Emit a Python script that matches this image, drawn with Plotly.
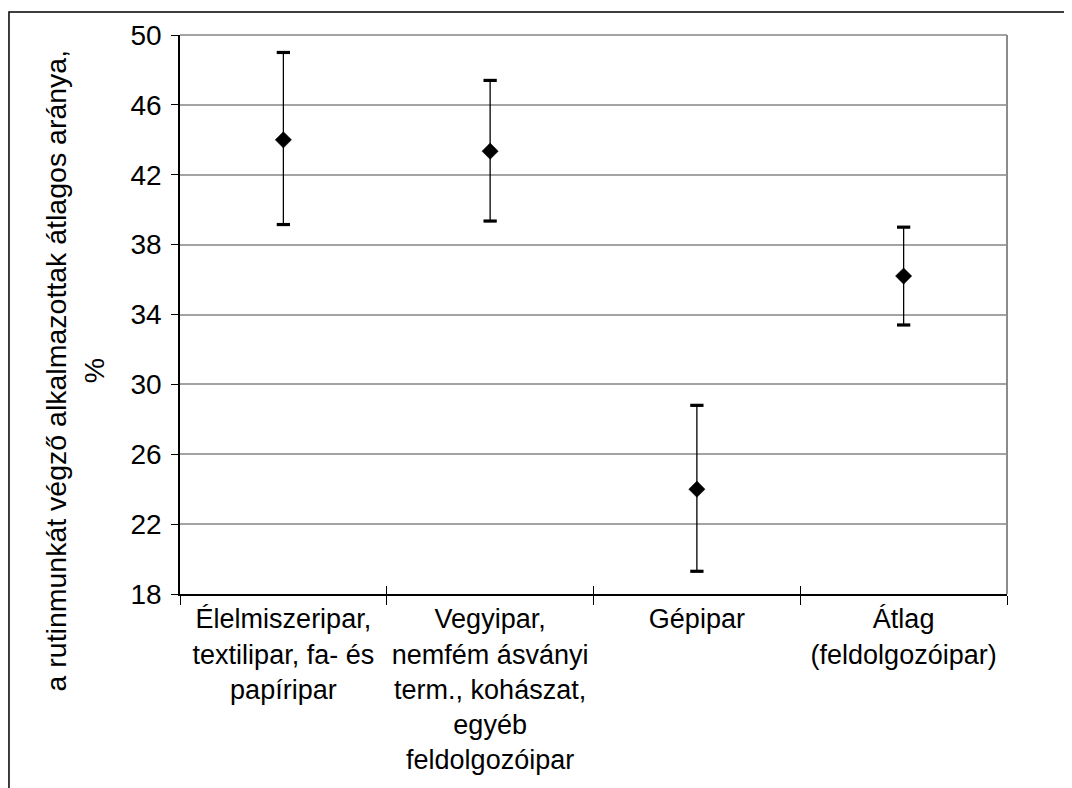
import plotly.graph_objects as go

categories = [
    "Élelmiszeripar,<br>textilipar, fa- és<br>papíripar",
    "Vegyipar,<br>nemfém ásványi<br>term., kohászat,<br>egyéb<br>feldolgozóipar",
    "Gépipar",
    "Átlag<br>(feldolgozóipar)",
]
means = [44.0, 43.35, 24.0, 36.2]
upper = [49.0, 47.4, 28.8, 39.0]
lower = [39.15, 39.35, 19.3, 33.4]
y_ticks = [18, 22, 26, 30, 34, 38, 42, 46, 50]
y_title = "a rutinmunkát végző alkalmazottak átlagos aránya,<br>%"

FONT = "Liberation Sans, Arial, sans-serif"
FS = 27

err_plus = [u - m for u, m in zip(upper, means)]
err_minus = [m - l for m, l in zip(means, lower)]

fig = go.Figure()

# stems
fig.add_trace(go.Scatter(
    x=categories, y=means, mode="markers",
    marker=dict(size=1, color="rgba(0,0,0,0)"),
    error_y=dict(type="data", symmetric=False, array=err_plus, arrayminus=err_minus,
                 color="black", thickness=1.3, width=0),
    showlegend=False, hoverinfo="skip",
))
# caps
fig.add_trace(go.Scatter(
    x=categories + categories, y=upper + lower, mode="markers",
    marker=dict(symbol="line-ew", size=9.5, color="black",
                line=dict(color="black", width=3.2)),
    showlegend=False, hoverinfo="skip",
))
# means
fig.add_trace(go.Scatter(
    x=categories, y=means, mode="markers",
    marker=dict(symbol="diamond", size=12.5, color="black",
                line=dict(color="black", width=0.5)),
    showlegend=False,
))
# helper trace for crossing ticks on overlay axis
fig.add_trace(go.Scatter(
    x=categories, y=means, xaxis="x2", mode="markers",
    marker=dict(size=1, color="rgba(0,0,0,0)"),
    showlegend=False, hoverinfo="skip",
))

fig.update_layout(
    width=1072, height=788,
    margin=dict(l=172, r=73, t=27, b=202),
    paper_bgcolor="white", plot_bgcolor="white",
    font=dict(family=FONT, size=FS, color="black"),
    xaxis=dict(
        type="category", categoryarray=categories, range=[-0.5, 3.5],
        showgrid=False, zeroline=False,
        showline=True, linecolor="black", linewidth=2,
        ticks="outside", tickson="boundaries", ticklen=9, tickwidth=1, tickcolor="black",
        tickfont=dict(family=FONT, size=FS, color="black"),
    ),
    xaxis2=dict(
        type="category", categoryarray=categories, overlaying="x", matches="x",
        anchor="y", side="bottom", range=[-0.5, 3.5],
        showgrid=False, zeroline=False, showline=False,
        ticks="inside", tickson="boundaries", ticklen=8, tickwidth=1, tickcolor="black",
        showticklabels=False,
    ),
    yaxis=dict(
        range=[18, 50], tickvals=y_ticks, ticktext=[str(v) for v in y_ticks],
        showgrid=True, gridcolor="#a3a3a3", gridwidth=1.6,
        zeroline=False,
        showline=True, linecolor="black", linewidth=1.5,
        ticks="outside", ticklen=7, tickwidth=1, tickcolor="black",
        ticklabelstandoff=4,
        tickfont=dict(family=FONT, size=28, color="black"),
    ),
    shapes=[
        # gray plot frame (top and right)
        dict(type="line", xref="paper", yref="paper", x0=0, x1=1, y0=1, y1=1,
             line=dict(color="#a3a3a3", width=2)),
        dict(type="line", xref="paper", yref="paper", x0=1, x1=1, y0=0, y1=1,
             line=dict(color="#8c8c8c", width=2)),
        # outer chart border
        dict(type="rect", xref="paper", yref="paper", x0=-0.2068, x1=1.2, y0=-0.5, y1=1.0411,
             line=dict(color="black", width=1.5), fillcolor="rgba(0,0,0,0)", layer="below"),
    ],
    annotations=[
        dict(text=y_title, xref="paper", yref="paper", x=-0.1276, y=0.4007,
             xanchor="center", yanchor="middle", textangle=-90, showarrow=False,
             font=dict(family=FONT, size=28.5, color="black")),
    ],
)

fig.write_html("out.html")
